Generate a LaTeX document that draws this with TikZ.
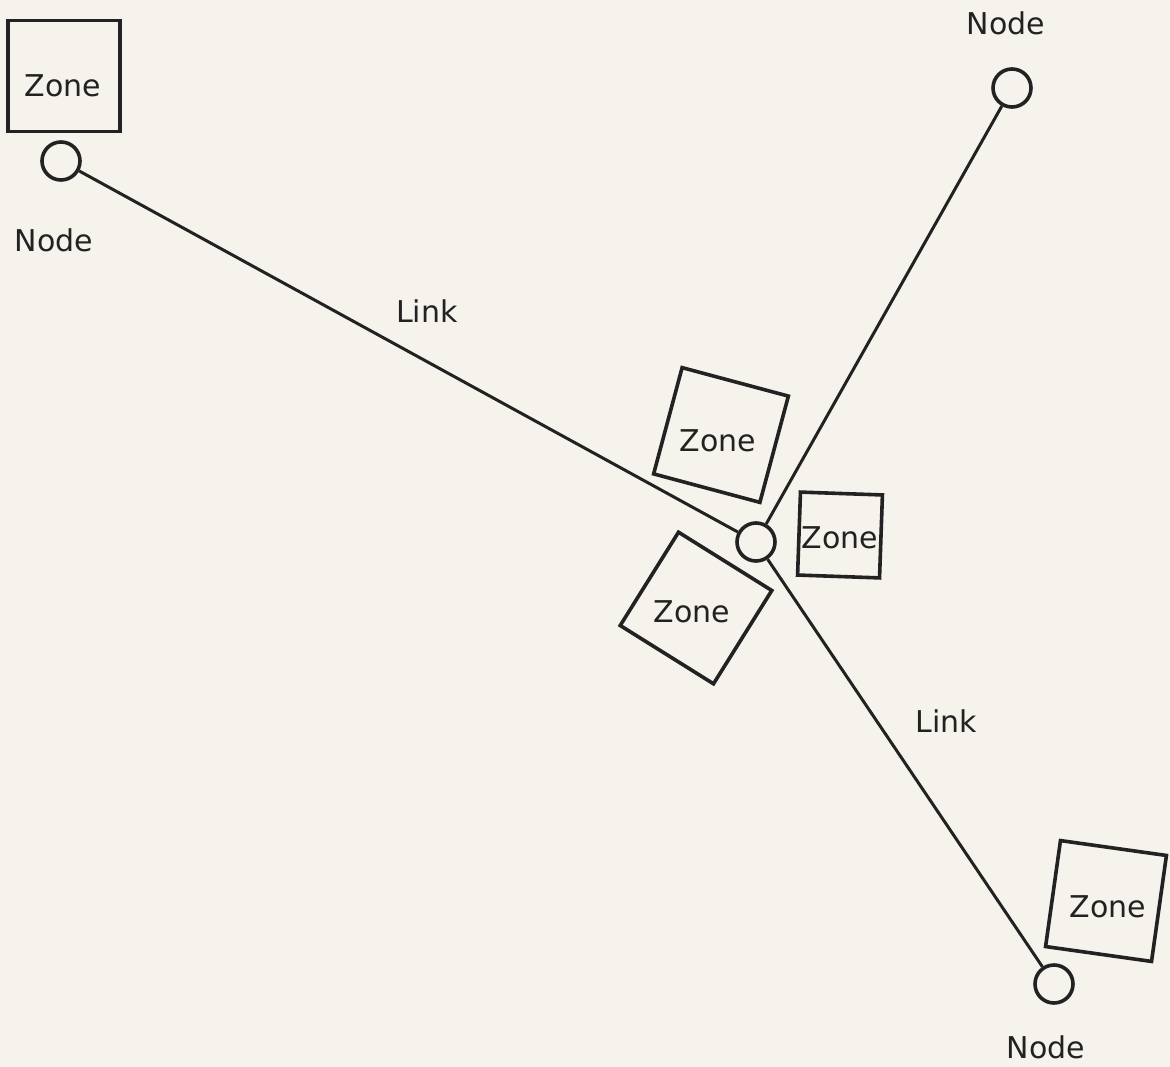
\documentclass[tikz,border=0pt]{standalone}
\usepackage{fontspec}
\setmainfont{DejaVu Sans}
\definecolor{paper}{HTML}{F6F2EC}
\definecolor{ink}{HTML}{222222}
\begin{document}
\begin{tikzpicture}[x=1pt,y=-1pt,
  netnode/.style={circle,draw=ink,line width=3.6pt,minimum size=38pt,inner sep=0pt},
  zonebox/.style={rectangle,draw=ink,line width=3.6pt,inner sep=0pt},
  lbl/.style={text=ink,font=\fontsize{30}{33}\selectfont,inner sep=0pt},
  link/.style={draw=ink,line width=3pt}]
\fill[paper] (0,0) rectangle (1170,1067);
\useasboundingbox (0,0) rectangle (1170,1067);
% nodes
\node[netnode] (n1) at (61,161) {};
\node[netnode] (n2) at (1012,88) {};
\node[netnode] (n3) at (756,542) {};
\node[netnode] (n4) at (1054,984) {};
% links
\draw[link] (n1) -- (n3);
\draw[link] (n3) -- (n2);
\draw[link] (n3) -- (n4);
% zones
\node[zonebox,minimum width=112pt,minimum height=111pt] (z1) at (64,76) {};
\node[zonebox,minimum size=110pt,rotate=-15] (z2) at (721,435) {};
\node[zonebox,minimum width=82pt,minimum height=83pt,rotate=-2] (z3) at (840,535) {};
\node[zonebox,minimum size=110pt,rotate=-32] (z4) at (696,608) {};
\node[zonebox,minimum size=107pt,rotate=-8] (z5) at (1106,901) {};
% labels
\node[lbl] (t1) at (63,86) {Zone};
\node[lbl] (t2) at (718,441) {Zone};
\node[lbl] (t3) at (840,538) {Zone};
\node[lbl] (t4) at (692,612) {Zone};
\node[lbl] (t5) at (1108,907) {Zone};
\node[lbl] (l1) at (54,240) {Node};
\node[lbl] (l2) at (1006,23) {Node};
\node[lbl] (l3) at (1046,1047) {Node};
\node[lbl] (k1) at (427,311) {Link};
\node[lbl] (k2) at (946,721) {Link};
\end{tikzpicture}
\end{document}
